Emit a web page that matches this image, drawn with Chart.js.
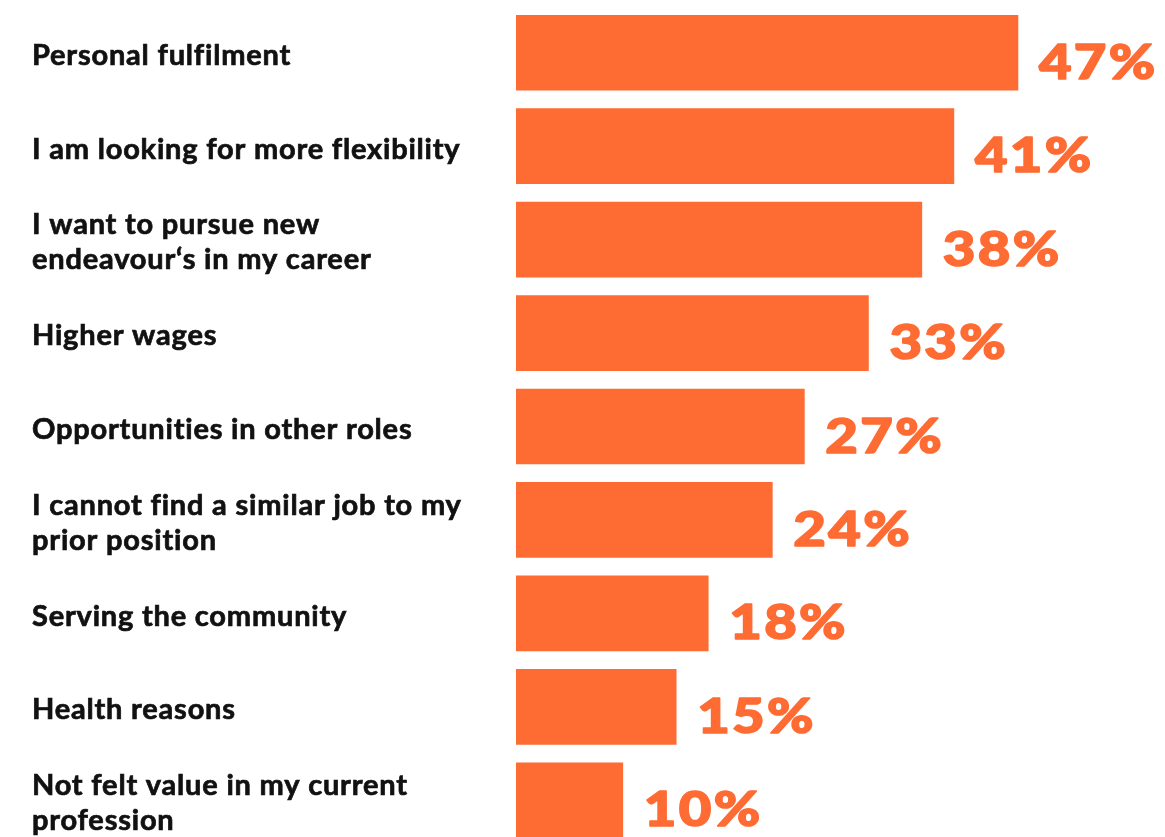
<!DOCTYPE html>
<html>
<head>
<meta charset="utf-8">
<script src="https://cdn.jsdelivr.net/npm/chart.js@4/dist/chart.umd.min.js"></script>
<style>
  html, body { margin: 0; padding: 0; background: #ffffff; overflow: hidden; }
  #wrap { position: relative; width: 1165px; height: 847px; }
</style>
</head>
<body>
<div id="wrap"><canvas id="chart"></canvas></div>
<script>
// Reasons for changing career, share of respondents (%)
const reasons = [
  "Personal fulfilment",
  "I am looking for more flexibility",
  ["I want to pursue new", "endeavour‘s in my career"],
  "Higher wages",
  "Opportunities in other roles",
  ["I cannot find a similar job to my", "prior position"],
  "Serving the community",
  "Health reasons",
  ["Not felt value in my current", "profession"]
];
const shares = [47, 41, 38, 33, 27, 24, 18, 15, 10];
const valueLabels = ["47%", "41%", "38%", "33%", "27%", "24%", "18%", "15%", "10%"];

const ORANGE = "#FE6B33";

// Slightly open tracking for all canvas text (category labels)
const trackingPlugin = {
  id: "tracking",
  beforeDraw(chart) {
    if ("letterSpacing" in chart.ctx) chart.ctx.letterSpacing = "0.8px";
  }
};

// Draws the percentage next to the end of each bar, in a wide heavy display style
const valueLabelPlugin = {
  id: "valueLabels",
  afterDatasetsDraw(chart) {
    const ctx = chart.ctx;
    const meta = chart.getDatasetMeta(0);
    const stretch = 1.17;
    ctx.save();
    ctx.fillStyle = ORANGE;
    ctx.strokeStyle = ORANGE;
    ctx.lineWidth = 1.6;
    ctx.lineJoin = "round";
    ctx.font = "900 48px Lato";
    ctx.textAlign = "left";
    ctx.textBaseline = "alphabetic";
    if ("letterSpacing" in ctx) ctx.letterSpacing = "2px";
    meta.data.forEach((bar, i) => {
      ctx.save();
      ctx.translate(bar.x + 21, bar.y + 26);
      ctx.scale(stretch, 1);
      ctx.fillText(valueLabels[i], 0, 0);
      ctx.strokeText(valueLabels[i], 0, 0);
      ctx.restore();
    });
    ctx.restore();
  }
};

new Chart(document.getElementById("chart"), {
  type: "bar",
  data: {
    labels: reasons,
    datasets: [{
      data: shares,
      backgroundColor: ORANGE,
      borderWidth: 0,
      barThickness: 75
    }]
  },
  options: {
    indexAxis: "y",
    responsive: true,
    maintainAspectRatio: false,
    animation: false,
    layout: { padding: { left: 32, top: 6, right: 115, bottom: 0 } },
    plugins: {
      legend: { display: false },
      tooltip: { enabled: false }
    },
    scales: {
      x: {
        display: false,
        min: 0,
        max: 50
      },
      y: {
        grid: { display: false },
        border: { display: false },
        afterFit(scale) {
          scale.width = 484;
          scale.paddingTop = 0;
          scale.paddingBottom = 0;
        },
        ticks: {
          crossAlign: "far",
          color: "#111111",
          textStrokeColor: "#111111",
          textStrokeWidth: 0.7,
          padding: 0,
          labelOffset: 3,
          font: { family: "Lato", weight: "bold", size: 29, lineHeight: "35px" }
        }
      }
    }
  },
  plugins: [trackingPlugin, valueLabelPlugin]
});
</script>
</body>
</html>
